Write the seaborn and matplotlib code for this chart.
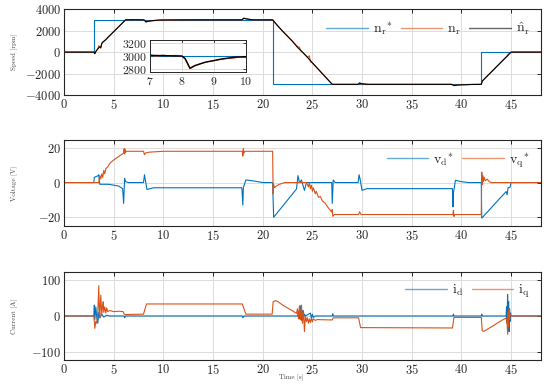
"""
Drive test: speed, dq voltage and dq current vs time.
"""

import numpy as np
import matplotlib
matplotlib.use("Agg")
import matplotlib.pyplot as plt
import seaborn as sns

# --- Speed [rpm] ---
t_ref = [0, 3, 3, 21, 21, 42, 42, 48]
n_ref = [0, 0, 3000, 3000, -3000, -3000, 0, 0]

t_nhat = [0, 3.0, 3.1, 3.2, 3.4, 3.6, 3.7, 3.8, 4.0, 4.2, 4.4, 5.0, 5.6, 6.2, 7.0, 8.0,
          8.1, 8.25, 8.4, 8.7, 9.2, 9.6, 10.0, 12.0, 17.9, 18.1, 18.4, 19.0, 21.0, 21.2,
          21.5, 22.0, 23.0, 23.5, 24.0, 24.5, 25.0, 26.0, 27.0, 29.6, 29.75, 30.0, 30.6,
          39.0, 39.3, 39.6, 41.0, 42.0, 42.1, 43.0, 44.0, 44.7, 45.0, 48]
n_hat = [0, 0, -150, 50, 300, 500, 420, 800, 1000, 1150, 1350, 1900, 2450, 3000, 3010, 3000,
         2960, 2810, 2850, 2900, 2950, 2980, 2990, 3000, 3000, 3150, 3080, 3000, 3000, 2780,
         2450, 1950, 1000, 450, 0, -480, -1000, -2000, -3000, -3000, -2880, -2950, -3000,
         -3000, -3120, -3060, -3010, -3000, -2700, -1860, -930, -300, 0, 0]

t_nr = [0, 3.0, 3.1, 3.2, 3.4, 3.5, 3.6, 3.7, 3.8, 3.9, 4.0, 4.2, 4.4, 5.0, 5.6, 6.2, 7.0,
        7.2, 7.4, 7.6, 7.8, 8.0, 8.1, 8.25, 8.4, 8.6, 8.8, 9.0, 9.2, 9.4, 9.6, 9.8, 10.0,
        12.0, 17.9, 18.1, 18.4, 19.0, 21.0, 21.2, 21.5, 22.0, 23.0, 23.5, 23.7, 23.8, 24.0,
        24.5, 24.7, 24.8, 25.0, 26.0, 27.0, 29.6, 29.75, 30.0, 30.6, 39.0, 39.3, 39.6, 41.0,
        42.0, 42.1, 43.0, 44.0, 44.6, 44.7, 45.0, 48]
n_r = [0, 0, -150, 50, 300, 600, 450, 350, 850, 950, 1000, 1150, 1350, 1900, 2450, 3000,
       3020, 2995, 3015, 3000, 3010, 2995, 2950, 2800, 2845, 2880, 2910, 2925, 2945, 2960,
       2965, 2985, 2975, 3000, 3000, 3150, 3080, 3000, 3000, 2780, 2450, 1950, 1000, 500,
       450, 150, 0, -480, -350, -900, -1000, -2000, -3000, -3000, -2880, -2950, -3000,
       -3000, -3120, -3060, -3010, -3000, -2700, -1860, -930, -350, -200, 0, 0]

# --- Voltage [V] ---
t_vd = [0, 3.0, 3.05, 3.45, 3.5, 3.6, 4.5, 5.5, 5.9, 6.0, 6.1, 6.2, 6.5, 8.0, 8.1, 8.2,
        8.35, 9.0, 17.9, 18.0, 18.05, 18.3, 19.0, 20.0, 21.0, 21.1, 23.4, 23.55, 23.7, 23.9,
        24.2, 24.4, 26.95, 27.0, 27.1, 27.3, 29.6, 29.7, 29.8, 30.0, 30.5, 39.1, 39.15, 39.2,
        39.4, 40.0, 40.7, 42.0, 42.05, 44.0, 44.5, 44.6, 44.7, 44.9, 45.0, 48]
v_d = [0, 0, 3, 4, 4.5, -1, -1, -2, -3.5, -12, 2.5, 0.5, 0, 0, 4.5, 1, -4, -3, -3, -13, -3,
       1.5, 1, 0, 0, -20, -3.7, 4, 0, 1.5, -4.5, 0, 0, -12, 1.5, 0, 0, 4.5, 2, -4.5, -3.5,
       -3.5, -14, -6, 1.3, 0.5, 0, 0, -20.5, -8.3, -5.2, -7, -3, -2.7, 0, 0]

t_vq = [0, 3.5, 3.6, 3.7, 3.8, 3.9, 4.0, 4.1, 4.2, 4.4, 4.6, 4.8, 5.0, 5.5, 6.0, 6.05, 6.1,
        6.15, 6.2, 6.3, 8.0, 8.1, 8.2, 8.6, 10.0, 17.95, 18.0, 18.05, 18.1, 18.2, 21.0,
        21.05, 21.1, 21.2, 21.3, 21.6, 22.2, 24.4, 24.6, 24.7, 24.8, 24.9, 25.0, 25.1, 25.3,
        25.4, 25.6, 25.8, 26.0, 26.3, 26.6, 26.95, 27.0, 27.05, 27.2, 29.65, 29.75, 29.9,
        39.15, 39.2, 39.25, 39.3, 42.0, 42.05, 42.1, 42.15, 42.2, 42.3, 42.4, 42.6, 42.8,
        43.0, 48]
v_q = [0, 0, 4, 2, 5, 3, 7, 5, 8, 9, 11, 12, 13, 15, 17, 19.5, 16.5, 19, 17.5, 18, 18, 16,
       17, 17.5, 18, 18, 15.2, 19.5, 17, 18, 18, -6.5, -1, -3, -2.3, -1.2, 0, 0, -2.5, 0,
       -3.5, -1.5, -5, -3, -6.5, -5, -8.5, -8, -10.5, -12, -14.5, -17, -15.5, -19.5, -18.4,
       -18.4, -16.8, -18.4, -18.4, -16, -19.5, -18.4, -18.4, 6, -1, 4, 0.5, 3, 1, 2, 0.5,
       0, 0]

# --- Current [A] ---
t_id = [0, 3.0, 3.05, 3.1, 3.2, 3.3, 3.4, 3.5, 3.6, 3.8, 4.0, 4.3, 4.6, 6.05, 6.1, 6.2,
        17.95, 18.0, 18.1, 23.5, 23.6, 23.7, 23.8, 23.9, 24.0, 24.1, 24.2, 24.3, 24.8, 24.9,
        25.0, 25.1, 25.3, 27.0, 27.05, 27.1, 39.15, 39.2, 39.25, 42.0, 42.05, 42.1, 44.5,
        44.55, 44.6, 44.65, 44.7, 44.75, 44.8, 44.85, 44.9, 44.95, 45.0, 48]
i_d = [0, 0, 30, -10, 25, -5, -20, 10, -5, 5, -3, 2, 0, 0, -5, 0, 0, -5, 0, 0, 12, -8, 28,
       -12, 15, -5, 5, 0, 8, -6, 5, -4, 0, 0, 6, 0, 0, 5, 0, 0, 5, 0, 0, 25, -20, 59, -30,
       40, -43, 20, -15, 8, 0, 0]

t_iq = [0, 3.0, 3.1, 3.2, 3.3, 3.4, 3.5, 3.55, 3.6, 3.7, 3.8, 3.9, 3.95, 4.0, 4.1, 4.2, 4.3,
        4.4, 4.6, 5.0, 5.5, 5.95, 6.05, 6.2, 8.0, 8.3, 17.95, 18.3, 20.95, 21.05, 21.3, 21.5,
        22.0, 22.5, 23.0, 23.4, 23.5, 23.6, 23.7, 23.8, 23.9, 24.0, 24.1, 24.2, 24.3, 24.4,
        24.5, 24.6, 24.7, 24.8, 24.9, 25.0, 25.1, 25.3, 25.5, 27.0, 27.1, 29.65, 29.85, 39.1,
        39.25, 42.0, 42.1, 42.3, 42.7, 43.2, 43.7, 44.2, 44.5, 44.6, 44.65, 44.7, 44.75,
        44.8, 44.85, 44.9, 45.0, 48]
i_q = [0, 0, -34, -15, -20, 10, 83, 20, -5, 57, 5, 30, 39, 10, 25, 8, 22, 12, 15, 12, 13,
       12, 5, 4, 5, 33, 33, 5, 5, 39, 42, 40, 30, 22, 14, 7, 20, -8, 28, -10, 30, -20, 15,
       -43, 0, -15, -5, -20, -8, -18, -6, -16, -8, -12, -10, -11, -5, -5, -32, -33, -4, -4,
       -41, -42, -35, -27, -18, -10, -6, -20, -50, 10, -30, 20, -10, 5, 0, 0]

BLUE = "#0072BD"
ORANGE = "#D95319"
XTICKS = list(range(0, 50, 5))


def style_axis(ax, ylim, yticks):
    ax.set_xlim(0, 48)
    ax.set_ylim(*ylim)
    ax.set_xticks(XTICKS)
    ax.set_yticks(yticks)
    ax.set_xlabel("")
    ax.set_ylabel("")
    ax.grid(True, color="#dcdcdc", linewidth=0.7)
    ax.tick_params(direction="in", top=True, right=True, length=3, width=0.7,
                   labelsize=9, colors="#262626", pad=2)
    for s in ax.spines.values():
        s.set_color("#262626")
        s.set_linewidth(0.8)


def line(ax, t, y, color, label=None, lw=0.8):
    sns.lineplot(x=t, y=y, ax=ax, color=color, lw=lw, label=label,
                 estimator=None, sort=False, legend=False)


def add_legend(ax, handles, labels, ncol):
    leg = ax.legend(handles, labels, loc="upper right", ncol=ncol, frameon=False,
                    fontsize=10, handlelength=3.0, handletextpad=0.35,
                    columnspacing=0.6, borderaxespad=0.4)
    for h in leg.legend_handles:
        h.set_alpha(0.6)
        h.set_linewidth(1.0)


def main():
    sns.set_theme(style="white")
    plt.rcParams["font.family"] = ["cmr10", "DejaVu Serif"]
    plt.rcParams["mathtext.fontset"] = "cm"
    plt.rcParams["axes.formatter.use_mathtext"] = True
    plt.rcParams["axes.unicode_minus"] = True

    fig = plt.figure(figsize=(5.5, 3.85), dpi=100)
    ax1 = fig.add_axes([0.1164, 0.753, 0.867, 0.2234])
    ax2 = fig.add_axes([0.1164, 0.413, 0.867, 0.2234])
    ax3 = fig.add_axes([0.1164, 0.065, 0.867, 0.2286])

    # speed
    line(ax1, t_ref, n_ref, BLUE)
    line(ax1, t_nr, n_r, ORANGE)
    line(ax1, t_nhat, n_hat, "black")
    style_axis(ax1, (-4000, 4000), [-4000, -2000, 0, 2000, 4000])
    add_legend(ax1, ax1.get_lines()[:3],
               [r"$\mathrm{n}_\mathrm{r}{}^{*}$", r"$\mathrm{n}_\mathrm{r}$",
                r"$\hat{\mathrm{n}}_\mathrm{r}$"], 3)

    ins = fig.add_axes([0.2727, 0.813, 0.1745, 0.083])
    line(ins, t_ref, n_ref, BLUE)
    line(ins, t_nr, n_r, ORANGE)
    line(ins, t_nhat, n_hat, "black", lw=1.0)
    ins.set_xlim(7, 10)
    ins.set_ylim(2750, 3250)
    ins.set_xticks([7, 8, 9, 10])
    ins.set_yticks([2800, 3000, 3200])
    ins.set_xlabel("")
    ins.set_ylabel("")
    ins.grid(True, color="#dcdcdc", linewidth=0.7)
    ins.tick_params(direction="in", top=True, right=True, length=2, width=0.6,
                    labelsize=8.5, colors="#262626", pad=2)
    for s in ins.spines.values():
        s.set_color("#262626")
        s.set_linewidth(0.7)

    # voltage
    line(ax2, t_vd, v_d, BLUE)
    line(ax2, t_vq, v_q, ORANGE)
    style_axis(ax2, (-25, 24.5), [-20, 0, 20])
    add_legend(ax2, ax2.get_lines()[:2],
               [r"$\mathrm{v}_\mathrm{d}{}^{*}$", r"$\mathrm{v}_\mathrm{q}{}^{*}$"], 2)

    # current
    line(ax3, t_id, i_d, BLUE)
    line(ax3, t_iq, i_q, ORANGE)
    style_axis(ax3, (-121, 121), [-100, 0, 100])
    add_legend(ax3, ax3.get_lines()[:2],
               [r"$\mathrm{i}_\mathrm{d}$", r"$\mathrm{i}_\mathrm{q}$"], 2)

    for ax, txt in [(ax1, "Speed [rpm]"), (ax2, "Voltage [V]"), (ax3, "Current [A]")]:
        pos = ax.get_position()
        fig.text(14 / 550, pos.y0 + pos.height / 2, txt, rotation=90, ha="center",
                 va="center", fontsize=5, color="#444444")
    fig.text(291 / 550, 1 - 377 / 385, "Time [s]", ha="center", va="center",
             fontsize=5, color="#444444")

    fig.savefig("out.png", dpi=100)


if __name__ == "__main__":
    main()
